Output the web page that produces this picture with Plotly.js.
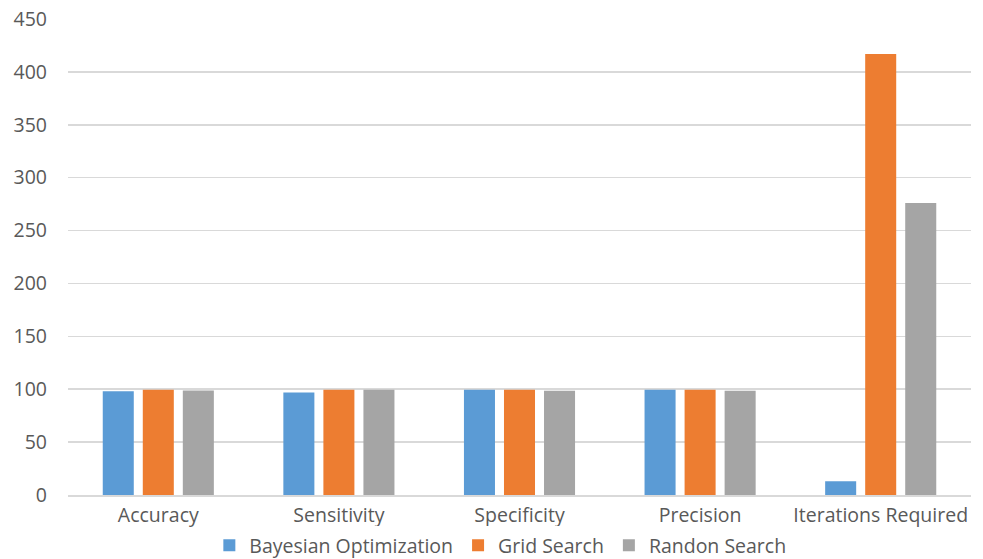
<!DOCTYPE html>
<html>
<head>
<meta charset="utf-8">
<script src="https://cdn.plot.ly/plotly-3.0.1.min.js"></script>
<style>
  html, body { margin: 0; padding: 0; background: #fff; }
  #chart { width: 983px; height: 559px; }
</style>
</head>
<body>
<div id="chart"></div>
<script>
// Tuning-method comparison across metrics
const categories = ["Accuracy", "Sensitivity", "Specificity", "Precision", "Iterations Required"];
const bayesian = [98, 97, 99.5, 99.5, 13];
const gridSearch = [99.5, 99.5, 99.5, 99.5, 417];
const randomSearch = [98.8, 99.5, 98.5, 98.5, 276];
const seriesNames = ["Bayesian Optimization", "Grid Search", "Randon Search"];
const yTicks = [0, 50, 100, 150, 200, 250, 300, 350, 400, 450];

const colors = ["#5b9bd5", "#ed7d31", "#a5a5a5"];
const values = [bayesian, gridSearch, randomSearch];

const traces = values.map((v, i) => ({
  type: "bar",
  name: seriesNames[i],
  x: categories,
  y: v,
  marker: { color: colors[i], line: { width: 0 } },
  hoverinfo: "x+y+name"
}));

const font = "'Open Sans', sans-serif";
const txt = "#595959";
const fs = 19.5;

const layout = {
  width: 983,
  height: 559,
  margin: { l: 68, r: 12, t: 19, b: 64, autoexpand: false },
  paper_bgcolor: "#ffffff",
  plot_bgcolor: "#ffffff",
  barmode: "group",
  bargap: 0.335,
  bargroupgap: 0.225,
  font: { family: font, size: fs, color: txt },
  xaxis: {
    showgrid: false,
    showline: true,
    linecolor: "#d9d9d9",
    linewidth: 1.5,
    ticks: "",
    ticklabelstandoff: 2,
    tickfont: { family: font, size: fs, color: txt }
  },
  yaxis: {
    range: [0, 450],
    tickvals: yTicks,
    ticktext: yTicks.map(String),
    showgrid: true,
    gridcolor: "#d9d9d9",
    gridwidth: 1.5,
    zeroline: false,
    showline: false,
    ticks: "",
    ticklabelstandoff: 20,
    tickfont: { family: font, size: fs, color: txt }
  },
  showlegend: true,
  legend: {
    orientation: "h",
    xref: "container",
    yref: "container",
    x: 0.509,
    xanchor: "center",
    y: 0.024,
    yanchor: "middle",
    font: { family: font, size: fs, color: txt },
    itemwidth: 30,
    tracegroupgap: 0
  }
};

Plotly.newPlot("chart", traces, layout, { displayModeBar: false, staticPlot: true });
</script>
</body>
</html>
